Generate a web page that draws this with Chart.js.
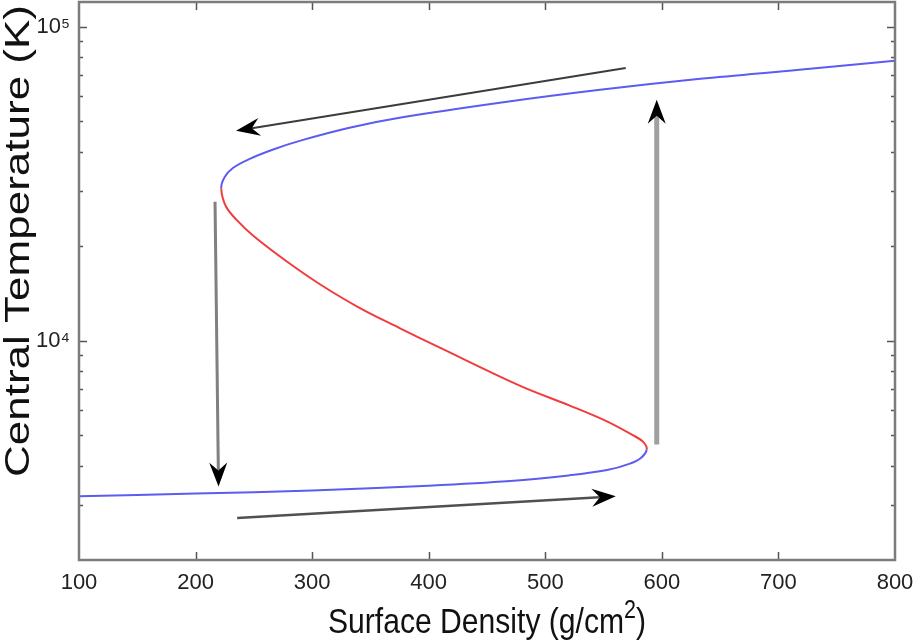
<!DOCTYPE html>
<html>
<head>
<meta charset="utf-8">
<script src="https://cdn.jsdelivr.net/npm/chart.js@4/dist/chart.umd.min.js"></script>
<style>
html,body{margin:0;padding:0;background:#fff;}
#wrap{width:917px;height:644px;position:relative;}
</style>
</head>
<body>
<div id="wrap"><canvas id="c" width="917" height="644"></canvas></div>
<script>
// ---- data ----
const xTicks = [100, 200, 300, 400, 500, 600, 700, 800];
const yMajorTicks = [10000, 100000];
const yMinorTicks = [3000, 4000, 5000, 6000, 7000, 8000, 9000, 20000, 30000, 40000, 50000, 60000, 70000, 80000, 90000];

// lower (cold) stable branch - blue
const lowerX = [100, 200, 300, 400, 470, 520, 553, 572, 582, 587];
const lowerY = [3190, 3255, 3330, 3450, 3570, 3720, 3870, 4050, 4230, 4500];
// middle unstable branch - red
const middleX = [587, 584, 575, 552, 521, 478, 410, 375, 341, 307, 278, 250, 235, 226, 222];
const middleY = [4500, 4760, 5000, 5550, 6210, 7190, 9480, 10970, 12700, 15100, 17900, 21500, 24300, 26800, 30600];
// upper (hot) stable branch - blue
const upperX = [222, 225, 232, 246, 266, 290, 332, 375, 461, 547, 633, 718, 800];
const upperY = [30600, 33200, 35500, 37900, 40600, 43400, 47700, 51300, 57300, 63000, 68300, 73000, 78000];

// arrows (data coordinates): start -> end (head at end)
const arrowFromX = [569, 216.7, 235.7, 595.6];
const arrowFromY = [73950, 27700, 2723, 4665];
const arrowToX   = [234.7, 219.7, 560.5, 595.6];
const arrowToY   = [46650, 3427, 3190, 58550];

const xTitle = 'Surface Density (g/cm';
const xTitleSup = '2';
const xTitleEnd = ')';
const yTitle = 'Central Temperature (K)';

// ---- styles ----
const BLUE = '#5c5cf2';
const RED = '#f23c3c';
const FRAME = '#7c7c7c';
const arrowColors = ['#3c3c3c', '#808080', '#505050', '#a0a0a0'];
const arrowWidths = [2, 3, 2.5, 5];
const FONT = '"Liberation Sans", Arial, Helvetica, sans-serif';

// one continuous path, coloured per branch
const curvePts = [];
lowerX.forEach((x, i) => curvePts.push({x: x, y: lowerY[i]}));
middleX.forEach((x, i) => { if (i > 0) curvePts.push({x: x, y: middleY[i]}); });
upperX.forEach((x, i) => { if (i > 0) curvePts.push({x: x, y: upperY[i]}); });
const redStart = lowerX.length - 1;
const redEnd = redStart + middleX.length - 1;

function drawArrow(ctx, x1, y1, x2, y2, color, width) {
  const ang = Math.atan2(y2 - y1, x2 - x1);
  const dx = Math.cos(ang), dy = Math.sin(ang);
  const px = -dy, py = dx;
  const L = 24, H = 9, N = 8;
  const bx = x2 - (L - N) * dx, by = y2 - (L - N) * dy;
  ctx.save();
  ctx.strokeStyle = color;
  ctx.lineWidth = width;
  ctx.lineCap = 'butt';
  ctx.beginPath();
  ctx.moveTo(x1, y1);
  ctx.lineTo(bx, by);
  ctx.stroke();
  ctx.fillStyle = '#000';
  ctx.beginPath();
  ctx.moveTo(x2, y2);
  ctx.lineTo(x2 - L * dx + H * px, y2 - L * dy + H * py);
  ctx.lineTo(bx, by);
  ctx.lineTo(x2 - L * dx - H * px, y2 - L * dy - H * py);
  ctx.closePath();
  ctx.fill();
  ctx.restore();
}

function noPad(s) { s.paddingLeft = 0; s.paddingRight = 0; s.paddingTop = 0; s.paddingBottom = 0; }

const deco = {
  id: 'deco',
  afterDatasetsDraw(chart) {
    const ctx = chart.ctx, xs = chart.scales.x, ys = chart.scales.y;
    for (let i = 0; i < arrowFromX.length; i++) {
      drawArrow(ctx,
        xs.getPixelForValue(arrowFromX[i]), ys.getPixelForValue(arrowFromY[i]),
        xs.getPixelForValue(arrowToX[i]), ys.getPixelForValue(arrowToY[i]),
        arrowColors[i], arrowWidths[i]);
    }
  },
  afterDraw(chart) {
    const ctx = chart.ctx, a = chart.chartArea, xs = chart.scales.x, ys = chart.scales.y;
    ctx.save();
    // inward tick marks
    ctx.strokeStyle = '#555';
    ctx.lineWidth = 1.5;
    ctx.beginPath();
    xTicks.forEach(v => {
      const p = Math.round(xs.getPixelForValue(v)) + 0.5;
      if (p < a.left + 2 || p > a.right - 2) return;
      ctx.moveTo(p, a.bottom); ctx.lineTo(p, a.bottom - 8);
      ctx.moveTo(p, a.top); ctx.lineTo(p, a.top + 8);
    });
    yMajorTicks.forEach(v => {
      const p = Math.round(ys.getPixelForValue(v)) + 0.5;
      ctx.moveTo(a.left, p); ctx.lineTo(a.left + 8, p);
      ctx.moveTo(a.right, p); ctx.lineTo(a.right - 8, p);
    });
    yMinorTicks.forEach(v => {
      const p = Math.round(ys.getPixelForValue(v)) + 0.5;
      ctx.moveTo(a.left, p); ctx.lineTo(a.left + 4, p);
      ctx.moveTo(a.right, p); ctx.lineTo(a.right - 4, p);
    });
    ctx.stroke();
    // frame
    ctx.strokeStyle = FRAME;
    ctx.lineWidth = 2.5;
    ctx.strokeRect(a.left, a.top, a.right - a.left, a.bottom - a.top);

    // x title (slightly condensed like the reference)
    ctx.fillStyle = '#111';
    ctx.textBaseline = 'alphabetic';
    const sx = 0.86;
    ctx.font = '35px ' + FONT;
    const w1 = ctx.measureText(xTitle).width;
    const w3 = ctx.measureText(xTitleEnd).width;
    ctx.font = '25px ' + FONT;
    const w2 = ctx.measureText(xTitleSup).width;
    const total = (w1 + w2 + w3) * sx;
    const cx = (a.left + a.right) / 2;
    const baseY = 633;
    ctx.save();
    ctx.translate(cx - total / 2, baseY);
    ctx.scale(sx, 1);
    ctx.textAlign = 'left';
    ctx.font = '35px ' + FONT;
    ctx.fillText(xTitle, 0, 0);
    ctx.font = '25px ' + FONT;
    ctx.fillText(xTitleSup, w1, -15);
    ctx.font = '35px ' + FONT;
    ctx.fillText(xTitleEnd, w1 + w2, 0);
    ctx.restore();

    // y title
    ctx.save();
    ctx.translate(29, 241);
    ctx.rotate(-Math.PI / 2);
    ctx.scale(1, 0.8);
    ctx.font = '44px ' + FONT;
    ctx.textAlign = 'center';
    ctx.textBaseline = 'alphabetic';
    ctx.fillText(yTitle, 0, 0);
    ctx.restore();
    ctx.restore();
  }
};

new Chart(document.getElementById('c'), {
  type: 'line',
  data: {
    datasets: [{
      data: curvePts,
      borderColor: BLUE,
      segment: {
        borderColor: c => (c.p0DataIndex >= redStart && c.p0DataIndex < redEnd ? RED : BLUE)
      }
    }]
  },
  options: {
    responsive: false,
    animation: false,
    elements: {
      line: {borderWidth: 2, tension: 0.35, fill: false, capBezierPoints: false},
      point: {radius: 0, hoverRadius: 0}
    },
    layout: {padding: {top: 2, right: 22, left: 0, bottom: 0}},
    plugins: {legend: {display: false}, tooltip: {enabled: false}},
    scales: {
      x: {
        type: 'linear', min: 100, max: 800,
        afterBuildTicks: s => { s.ticks = xTicks.map(v => ({value: v})); },
        afterFit: s => { s.height = 84; noPad(s); },
        grid: {display: false, drawTicks: false},
        border: {display: false},
        ticks: {
          color: '#222', padding: 10,
          font: {family: FONT, size: 22},
          maxRotation: 0, autoSkip: false
        }
      },
      y: {
        type: 'logarithmic', min: 2000, max: 120000,
        afterBuildTicks: s => { s.ticks = yMajorTicks.map(v => ({value: v})); },
        afterFit: s => { s.width = 79; noPad(s); },
        grid: {display: false, drawTicks: false},
        border: {display: false},
        ticks: {
          color: '#222', padding: 9,
          font: {family: FONT, size: 22},
          autoSkip: false,
          callback: v => (v === 10000 ? '10\u2074' : v === 100000 ? '10\u2075' : '')
        }
      }
    }
  },
  plugins: [deco]
});
</script>
</body>
</html>
